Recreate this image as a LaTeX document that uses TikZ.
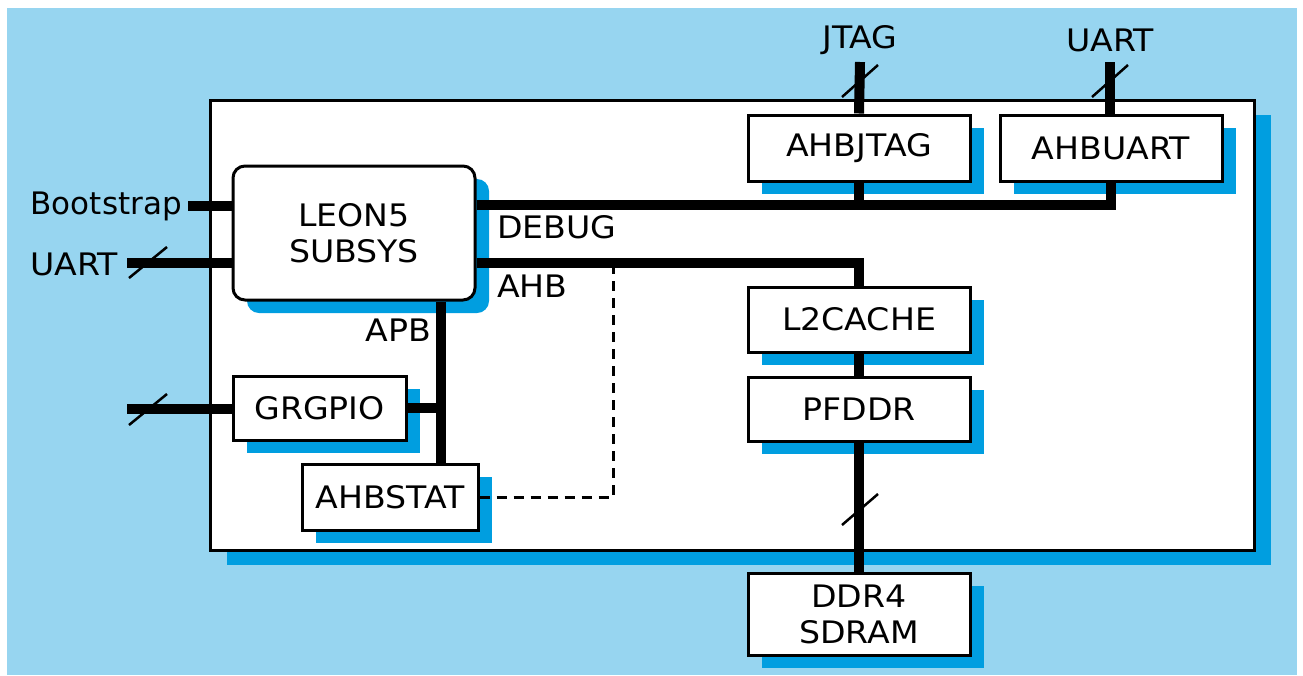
\documentclass[tikz,border=0pt]{standalone}
\usepackage{fontspec}
\setmainfont{DejaVu Sans}[FakeStretch=1.07]
\newfontfamily\plainsans{DejaVu Sans}
\usetikzlibrary{shadows}
\definecolor{bglight}{RGB}{151,213,240}
\definecolor{shblue}{RGB}{0,158,224}
\tikzset{
  blk/.style={draw=black, line width=3pt, fill=white, inner sep=0pt, align=center,
    font=\fontsize{31}{36}\selectfont,
    general shadow={fill=shblue, shadow xshift=14pt, shadow yshift=-13pt}},
  lbl/.style={inner sep=0pt, font=\fontsize{31}{36}\selectfont},
  bus/.style={line width=10pt, line cap=butt, line join=miter},
  slash/.style={line width=2.5pt},
  dashline/.style={line width=3pt, dash pattern=on 10pt off 7pt}
}
\begin{document}
\begin{tikzpicture}[x=1pt,y=-1pt]
\useasboundingbox (0,0) rectangle (1303,675);
\fill[white] (0,0) rectangle (1303,675);
\fill[bglight] (7,8) rectangle (1297,675);
% main chip box with shadow
\fill[shblue] (227,115) rectangle (1271,565);
\draw[line width=3pt, fill=white] (210,100) rectangle (1254,550);

% blocks
\node[blk, rounded corners=12pt, minimum width=242pt, minimum height=134pt] (leon) at (354,233) {LEON5\\SUBSYS};
\node[blk, minimum width=173pt, minimum height=64pt] (gpio) at (319.5,408) {GRGPIO};
\node[blk, minimum width=176pt, minimum height=66pt] (stat) at (390,497) {AHBSTAT};
\node[blk, minimum width=222pt, minimum height=66pt] (jtag) at (859,148) {AHBJTAG};
\node[blk, minimum width=222pt, minimum height=66pt] (uart) at (1111,148) {AHBUART};
\node[blk, minimum width=222pt, minimum height=65pt] (l2) at (859,319.5) {L2CACHE};
\node[blk, minimum width=222pt, minimum height=64pt] (pf) at (859,409) {PFDDR};
\node[blk, minimum width=222pt, minimum height=82pt] (ddr) at (859,614) {DDR4\\SDRAM};

% labels
\node[lbl, anchor=east, font=\plainsans\fontsize{31}{36}\selectfont] (boot) at (182,206) {Bootstrap};
\node[lbl, anchor=west] (uartl) at (30,264) {UART};
\node[lbl] (jtagl) at (860,40) {JTAG};
\node[lbl] (uartt) at (1110,40) {UART};
\node[lbl, anchor=west] (dbgl) at (497,227) {DEBUG};
\node[lbl, anchor=west] (ahbl) at (497,286) {AHB};
\node[lbl, anchor=east] (apbl) at (431,330) {APB};

% coordinates
\coordinate (dbg) at (475,205);
\coordinate (ahb) at (475,263);
\coordinate (apb) at (441,0);
\coordinate (bootend) at (188,206);
\coordinate (uartend) at (127,263);
\coordinate (gpioend) at (127,409);
\coordinate (jtagend) at (860,62);
\coordinate (uarttend) at (1110,62);
\coordinate (dashtop) at (613,263);

% buses
\draw[bus] (bootend) -- (leon.west |- bootend);
\draw[bus] (uartend) -- (leon.west |- uartend);
\draw[bus] (gpioend) -- (gpio.west |- gpioend);
\draw[bus] (leon.east |- dbg) -| (uart.south);
\draw[bus] (jtag.south) -- (jtag.south |- dbg);
\draw[bus] (leon.east |- ahb) -| (l2.north);
\draw[bus] (apb |- leon.south) -- (apb |- stat.north);
\draw[bus] (gpio.east) -- ([xshift=5pt]apb |- gpio.east);
\draw[bus] (jtagend) -- (jtag.north);
\draw[bus] (uarttend) -- (uarttend |- uart.north);
\draw[bus] (l2.south) -- (pf.north);
\draw[bus] (pf.south) -- (ddr.north);
\draw[dashline] (stat.east) -| (dashtop);

% width slashes
\draw[slash] (129,278) -- (167,247);
\draw[slash] (129,425) -- (167,394);
\draw[slash] (842,97) -- (878,65);
\draw[slash] (1092,97) -- (1128,65);
\draw[slash] (842,525) -- (878,494);
\end{tikzpicture}
\end{document}
